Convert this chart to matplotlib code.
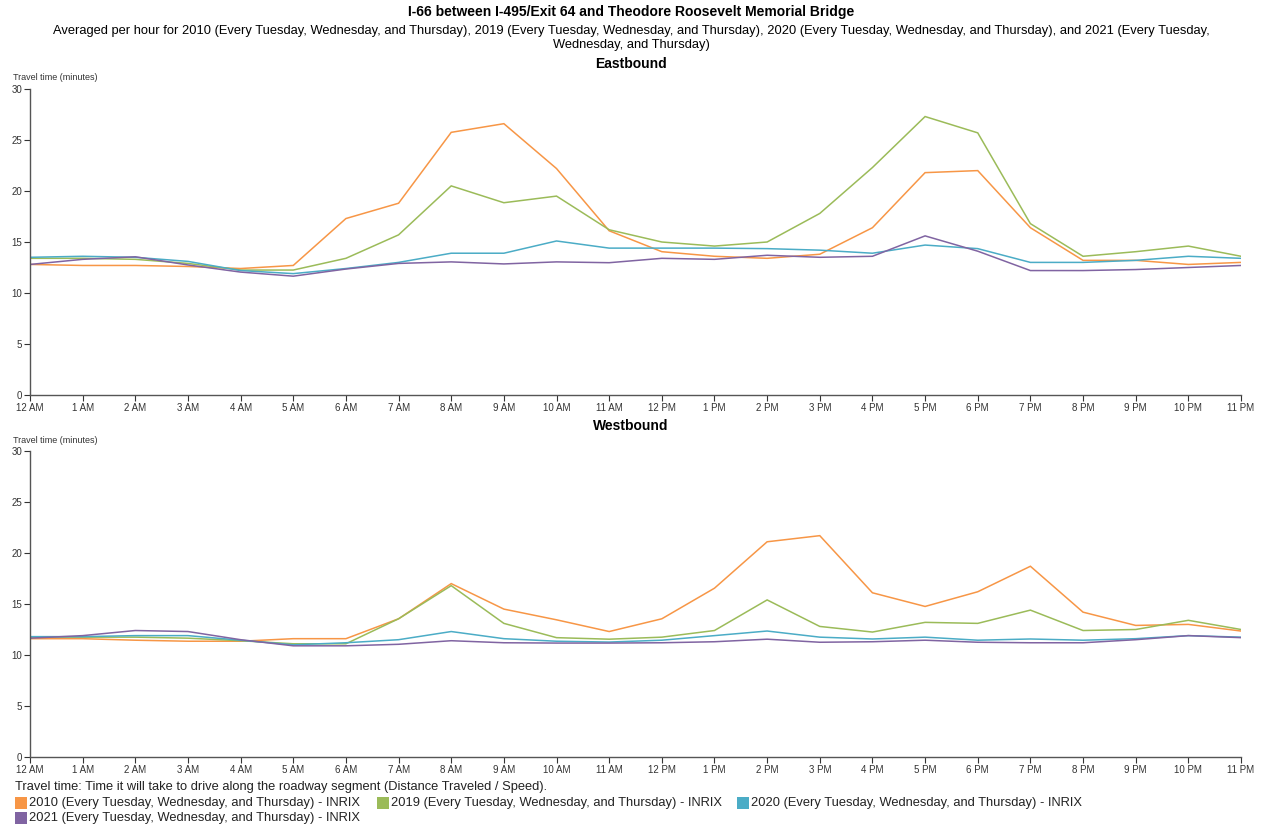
import matplotlib
matplotlib.use("Agg")
import matplotlib.pyplot as plt
from matplotlib.patches import Rectangle

plt.rcParams['font.family'] = ['Liberation Sans', 'DejaVu Sans']

hours = ["12 AM", "1 AM", "2 AM", "3 AM", "4 AM", "5 AM", "6 AM", "7 AM", "8 AM", "9 AM", "10 AM", "11 AM",
         "12 PM", "1 PM", "2 PM", "3 PM", "4 PM", "5 PM", "6 PM", "7 PM", "8 PM", "9 PM", "10 PM", "11 PM"]

series_names = ["2010 (Every Tuesday, Wednesday, and Thursday) - INRIX",
                "2019 (Every Tuesday, Wednesday, and Thursday) - INRIX",
                "2020 (Every Tuesday, Wednesday, and Thursday) - INRIX",
                "2021 (Every Tuesday, Wednesday, and Thursday) - INRIX"]
colors = ["#f79646", "#9bbb59", "#4bacc6", "#8064a2"]

eb_2010 = [12.8, 12.7, 12.7, 12.6, 12.4, 12.7, 17.3, 18.8, 25.75, 26.6, 22.2, 16.1,
           14.05, 13.6, 13.4, 13.8, 16.4, 21.8, 22.0, 16.4, 13.2, 13.2, 12.8, 13.0]
eb_2019 = [13.4, 13.4, 13.3, 12.9, 12.25, 12.25, 13.4, 15.7, 20.5, 18.85, 19.5, 16.2,
           15.0, 14.6, 15.0, 17.8, 22.3, 27.3, 25.7, 16.8, 13.6, 14.05, 14.6, 13.6]
eb_2020 = [13.5, 13.6, 13.5, 13.1, 12.2, 11.9, 12.4, 13.0, 13.9, 13.9, 15.1, 14.4,
           14.4, 14.4, 14.35, 14.2, 13.9, 14.7, 14.35, 13.0, 13.0, 13.2, 13.6, 13.4]
eb_2021 = [12.8, 13.3, 13.55, 12.75, 12.05, 11.65, 12.35, 12.9, 13.05, 12.85, 13.05, 12.97,
           13.4, 13.3, 13.7, 13.5, 13.6, 15.6, 14.1, 12.2, 12.2, 12.3, 12.5, 12.7]

wb_2010 = [11.6, 11.6, 11.45, 11.35, 11.35, 11.6, 11.6, 13.55, 17.0, 14.5, 13.45, 12.3,
           13.55, 16.55, 21.1, 21.7, 16.1, 14.76, 16.2, 18.7, 14.2, 12.9, 13.0, 12.35]
wb_2019 = [11.75, 11.75, 11.75, 11.65, 11.4, 11.1, 11.1, 13.55, 16.8, 13.1, 11.7, 11.55,
           11.75, 12.4, 15.4, 12.8, 12.25, 13.2, 13.1, 14.4, 12.4, 12.5, 13.4, 12.5]
wb_2020 = [11.8, 11.8, 11.9, 11.9, 11.45, 11.0, 11.2, 11.5, 12.3, 11.6, 11.35, 11.27,
           11.45, 11.9, 12.35, 11.75, 11.57, 11.75, 11.45, 11.57, 11.45, 11.6, 11.9, 11.75]
wb_2021 = [11.65, 11.9, 12.4, 12.3, 11.5, 10.9, 10.9, 11.05, 11.4, 11.2, 11.17, 11.17,
           11.2, 11.3, 11.55, 11.25, 11.3, 11.45, 11.25, 11.2, 11.2, 11.5, 11.9, 11.7]

y_ticks = [0, 5, 10, 15, 20, 25, 30]

W, H = 1262, 830
fig = plt.figure(figsize=(W / 100, H / 100), dpi=100)


def fx(px):
    return px / W


def fy(py):
    return 1 - py / H


def make_axes(top, bottom, data, title):
    ax = fig.add_axes([fx(30), fy(bottom), fx(1241) - fx(30), fy(top) - fy(bottom)])
    x = list(range(len(hours)))
    for vals, c in zip(data, colors):
        ax.plot(x, vals, color=c, lw=1.1, solid_joinstyle='miter')
    ax.set_xlim(0, len(hours) - 1)
    ax.set_ylim(0, 30)
    ax.set_xticks(x)
    ax.set_xticklabels(hours)
    ax.set_yticks(y_ticks)
    for s in ['top', 'right']:
        ax.spines[s].set_visible(False)
    for s in ['left', 'bottom']:
        ax.spines[s].set_color('#555555')
        ax.spines[s].set_linewidth(1.0)
    ax.tick_params(axis='both', labelsize=7, colors='#333333', length=4, width=0.8, pad=1.5)
    ax.text(fx(13), fy(top - 11), "Travel time (minutes)", transform=fig.transFigure,
            fontsize=6.5, color='#333333', ha='left', va='center')
    fig.text(0.5, fy(top - 25), title, ha='center', va='center', fontsize=10, fontweight='bold')
    return ax


make_axes(89, 395, [eb_2010, eb_2019, eb_2020, eb_2021], "Eastbound")
make_axes(451, 757, [wb_2010, wb_2019, wb_2020, wb_2021], "Westbound")

fig.text(0.5, fy(12), "I-66 between I-495/Exit 64 and Theodore Roosevelt Memorial Bridge",
         ha='center', va='center', fontsize=10, fontweight='bold')
fig.text(0.5, fy(38),
         "Averaged per hour for 2010 (Every Tuesday, Wednesday, and Thursday), 2019 (Every Tuesday, Wednesday, and Thursday), "
         "2020 (Every Tuesday, Wednesday, and Thursday), and 2021 (Every Tuesday,\nWednesday, and Thursday)",
         ha='center', va='center', fontsize=9.3, linespacing=1.2)

fig.text(fx(15), fy(787), "Travel time: Time it will take to drive along the roadway segment (Distance Traveled / Speed).",
         ha='left', va='center', fontsize=9.3, color='#222222')

legend_pos = [(15, 803), (377, 803), (737, 803), (15, 818)]
for (lx, ly), name, c in zip(legend_pos, series_names, colors):
    fig.patches.append(Rectangle((fx(lx), fy(ly + 6)), fx(12), (12 / H), transform=fig.transFigure,
                                 facecolor=c, edgecolor='none'))
    fig.text(fx(lx + 14), fy(ly), name, ha='left', va='center', fontsize=9.3, color='#222222')

fig.savefig("out.png", dpi=100)
